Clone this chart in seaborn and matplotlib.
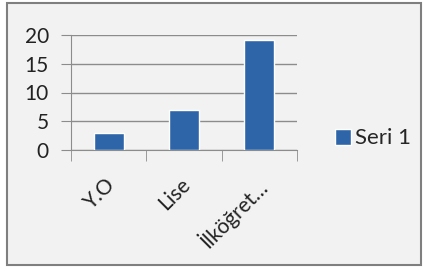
import seaborn as sns
import matplotlib.pyplot as plt
import matplotlib.transforms as mtransforms
import pandas as pd
from matplotlib.patches import Rectangle

# chart data
categories = ["Y.O", "Lise", "İlköğret…"]
values = [3, 7, 19.2]
series_name = "Seri 1"

df = pd.DataFrame({"kategori": categories, "deger": values, "seri": series_name})

sns.set_style("white")
plt.rcParams["font.family"] = ["Lato", "DejaVu Sans"]

fig = plt.figure(figsize=(4.27, 2.73), dpi=100)
fig.patch.set_facecolor("white")
# chart frame with light gray fill
fig.patches.append(Rectangle((7 / 427, 8 / 273), 414 / 427, 262 / 273,
                             transform=fig.transFigure, facecolor="#f2f2f2",
                             edgecolor="#7f7f7f", linewidth=1.5, zorder=-10))

ax = fig.add_axes([71 / 427, 1 - 150 / 273, 226 / 427, 115 / 273])
ax.set_facecolor("none")

sns.barplot(data=df, x="kategori", y="deger", hue="seri", palette=["#2e65a8"],
            saturation=1, width=0.4, ax=ax, zorder=3)

ax.set_ylim(0, 20)
ax.set_yticks([0, 5, 10, 15, 20])
ax.set_xlim(-0.5, 2.5)
ax.grid(axis="y", color="#8c8c8c", linewidth=1, zorder=1)
ax.set_axisbelow(True)
ax.set_xlabel("")
ax.set_ylabel("")

for side in ["top", "right"]:
    ax.spines[side].set_visible(False)
ax.spines["left"].set_color("#8c8c8c")
ax.spines["bottom"].set_color("#8c8c8c")

# y ticks
ax.tick_params(axis="y", which="both", left=True, length=7, color="#8c8c8c",
               labelsize=15, pad=9, labelcolor="#222222")
# x ticks between categories, labels at centers
ax.set_xticks([0, 1, 2])
ax.set_xticklabels(categories, rotation=45, ha="right", rotation_mode="anchor",
                   fontsize=15, color="#222222")
ax.tick_params(axis="x", which="major", bottom=False, pad=14)
shift = mtransforms.ScaledTranslation(-4 / 100, 0, fig.dpi_scale_trans)
for lbl in ax.get_xticklabels():
    lbl.set_transform(lbl.get_transform() + shift)
ax.set_xticks([-0.5, 0.5, 1.5, 2.5], minor=True)
ax.tick_params(axis="x", which="minor", bottom=True, length=8, color="#8c8c8c")

ax.legend(loc="center left", bbox_to_anchor=(1.13, 0.10), frameon=False,
          fontsize=16, handlelength=0.7, handleheight=0.7, handletextpad=0.2,
          borderaxespad=0)

fig.savefig("out.png", dpi=100)
